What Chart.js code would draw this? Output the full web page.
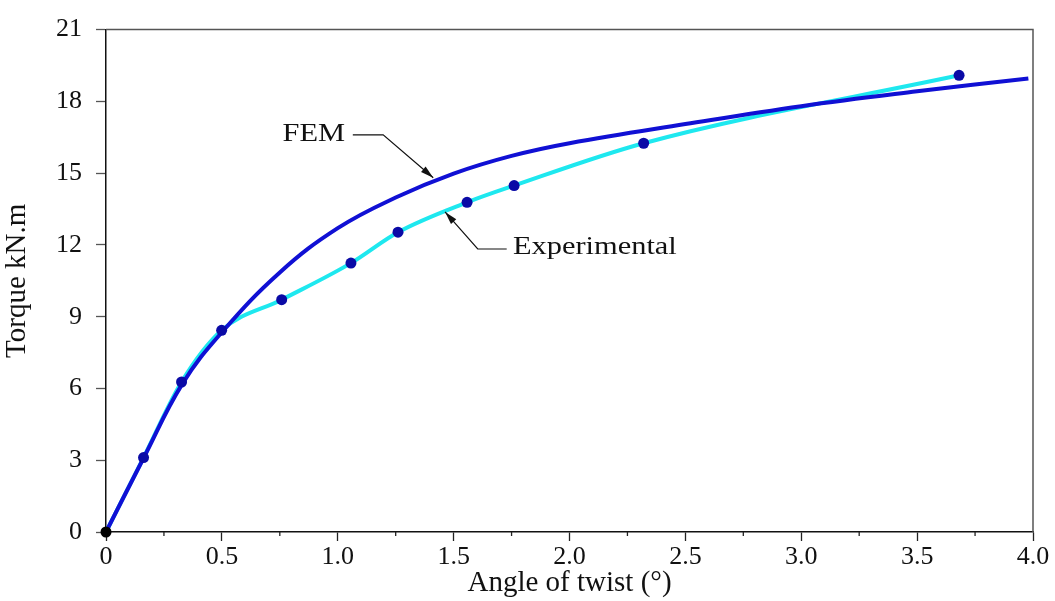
<!DOCTYPE html>
<html>
<head>
<meta charset="utf-8">
<script src="https://cdn.jsdelivr.net/npm/chart.js@4"></script>
<style>
  html, body { margin: 0; padding: 0; background: #fff; }
  #wrap { width: 1055px; height: 601px; }
</style>
</head>
<body>
<div id="wrap"><canvas id="torqueChart" width="1055" height="601"></canvas></div>
<script>
// experimental readings (angle of twist in degrees, torque kN.m)
const expAngle  = [0, 0.162, 0.326, 0.499, 0.758, 1.057, 1.26, 1.558, 1.761, 2.32, 3.681];
const expTorque = [0, 3.11, 6.27, 8.43, 9.71, 11.24, 12.53, 13.78, 14.48, 16.25, 19.09];

// FEM curve
const femAngle  = [0, 0.16, 0.33, 0.5, 0.75, 1.0, 1.25, 1.5, 1.75, 2.0, 2.5, 3.0, 3.5, 3.98];
const femTorque = [0, 3.05, 6.2, 8.35, 10.85, 12.7, 13.98, 14.98, 15.72, 16.25, 17.05, 17.8, 18.42, 18.96];

// axis ticks
const xTicks = [0, 0.5, 1.0, 1.5, 2.0, 2.5, 3.0, 3.5, 4.0];
const xMinor = [0.25, 0.75, 1.25, 1.75, 2.25, 2.75, 3.25, 3.75];
const yTicks = [0, 3, 6, 9, 12, 15, 18, 21];

// callout labels: text, text anchor, leader start, elbow, arrow tip (data units)
const noteText  = ['FEM', 'Experimental'];
const noteAt    = [[0.897, 16.64], [1.756, 11.9]];
const noteStart = [[1.065, 16.6], [1.729, 11.83]];
const noteElbow = [[1.196, 16.6], [1.604, 11.83]];
const noteTip   = [[1.412, 14.81], [1.463, 13.38]];

const FONT = '"Liberation Serif", "Times New Roman", serif';

function toXY(t) {
    return {x: t[0], y: t[1]};
}

const frameAndNotes = {
    id: 'frameAndNotes',
    afterDraw(chart) {
        const ctx = chart.ctx;
        const area = chart.chartArea;
        const xs = chart.scales.x;
        const ys = chart.scales.y;
        ctx.save();
        // top and right edges of the frame
        ctx.strokeStyle = '#555';
        ctx.lineWidth = 1.5;
        ctx.beginPath();
        ctx.moveTo(area.left, area.top);
        ctx.lineTo(area.right, area.top);
        ctx.lineTo(area.right, area.bottom);
        ctx.stroke();
        // minor ticks on x axis
        ctx.strokeStyle = '#222';
        ctx.lineWidth = 1.3;
        xMinor.forEach(v => {
            const px = xs.getPixelForValue(v);
            ctx.beginPath();
            ctx.moveTo(px, area.bottom);
            ctx.lineTo(px, area.bottom + 4);
            ctx.stroke();
        });
        // callouts
        for (let i = 0; i < noteText.length; i++) {
            const s = [xs.getPixelForValue(noteStart[i][0]), ys.getPixelForValue(noteStart[i][1])];
            const e = [xs.getPixelForValue(noteElbow[i][0]), ys.getPixelForValue(noteElbow[i][1])];
            const t = [xs.getPixelForValue(noteTip[i][0]), ys.getPixelForValue(noteTip[i][1])];
            ctx.strokeStyle = '#111';
            ctx.lineWidth = 1.2;
            ctx.beginPath();
            ctx.moveTo(s[0], s[1]);
            ctx.lineTo(e[0], e[1]);
            ctx.lineTo(t[0], t[1]);
            ctx.stroke();
            // arrow head
            const ang = Math.atan2(t[1] - e[1], t[0] - e[0]);
            const len = 13, half = 3.5;
            ctx.fillStyle = '#111';
            ctx.beginPath();
            ctx.moveTo(t[0], t[1]);
            ctx.lineTo(t[0] - len * Math.cos(ang) + half * Math.sin(ang), t[1] - len * Math.sin(ang) - half * Math.cos(ang));
            ctx.lineTo(t[0] - len * Math.cos(ang) - half * Math.sin(ang), t[1] - len * Math.sin(ang) + half * Math.cos(ang));
            ctx.closePath();
            ctx.fill();
            // text (slightly wide, as in the original figure)
            const tx = xs.getPixelForValue(noteAt[i][0]);
            const ty = ys.getPixelForValue(noteAt[i][1]);
            ctx.save();
            ctx.translate(tx, ty);
            ctx.scale(1.17, 1);
            ctx.font = '26px ' + FONT;
            ctx.fillStyle = '#111';
            ctx.textBaseline = 'middle';
            ctx.textAlign = i === 0 ? 'center' : 'left';
            ctx.fillText(noteText[i], 0, 0);
            ctx.restore();
        }
        ctx.restore();
    }
};

const ctx = document.getElementById('torqueChart').getContext('2d');
const torqueChart = new Chart(ctx, {
    type: 'line',
    data: {
        datasets: [{
            label: 'Experimental',
            data: expAngle.map((a, i) => toXY([a, expTorque[i]])),
            borderColor: '#1ee8ef',
            borderWidth: 4,
            pointRadius: 0,
            cubicInterpolationMode: 'monotone',
            order: 3
        }, {
            label: 'FEM',
            data: femAngle.map((a, i) => toXY([a, femTorque[i]])),
            borderColor: '#1010d4',
            borderWidth: 4,
            pointRadius: 0,
            tension: 0.4,
            order: 2
        }, {
            label: 'Experimental points',
            data: expAngle.map((a, i) => toXY([a, expTorque[i]])),
            showLine: false,
            clip: false,
            pointRadius: 5.5,
            pointBackgroundColor: expAngle.map((a, i) => i === 0 ? '#000' : '#0a0aa6'),
            pointBorderColor: expAngle.map((a, i) => i === 0 ? '#000' : '#0a0aa6'),
            pointBorderWidth: 0,
            order: 1
        }]
    },
    options: {
        responsive: false,
        animation: false,
        events: [],
        layout: {
            padding: {left: 0, right: 22, top: 26, bottom: 0}
        },
        plugins: {
            legend: {display: false},
            tooltip: {enabled: false}
        },
        scales: {
            x: {
                type: 'linear',
                min: 0,
                max: 4,
                afterBuildTicks: s => { s.ticks = xTicks.map(v => ({value: v})); },
                afterFit: s => { s.height = 69; },
                ticks: {
                    color: '#111',
                    font: {family: FONT, size: 26},
                    padding: 1,
                    maxRotation: 0,
                    callback: v => v === 0 ? '0' : v.toFixed(1)
                },
                grid: {
                    drawOnChartArea: false,
                    tickLength: 9,
                    tickColor: '#222',
                    tickWidth: 1.3
                },
                border: {color: '#111', width: 1.5},
                title: {
                    display: true,
                    text: 'Angle of twist (\u00b0)',
                    color: '#111',
                    font: {family: FONT, size: 29},
                    padding: {top: 0, bottom: 0}
                }
            },
            y: {
                type: 'linear',
                min: 0,
                max: 21,
                afterBuildTicks: s => { s.ticks = yTicks.map(v => ({value: v})); },
                afterFit: s => { s.width = 106; },
                ticks: {
                    color: '#111',
                    font: {family: FONT, size: 26},
                    padding: 14
                },
                grid: {
                    drawOnChartArea: false,
                    tickLength: 10,
                    tickColor: '#555',
                    tickWidth: 1.3
                },
                border: {color: '#111', width: 1.5},
                title: {
                    display: true,
                    text: 'Torque kN.m',
                    color: '#111',
                    font: {family: FONT, size: 29},
                    padding: {top: 0, bottom: 0}
                }
            }
        }
    },
    plugins: [frameAndNotes]
});
</script>
</body>
</html>
